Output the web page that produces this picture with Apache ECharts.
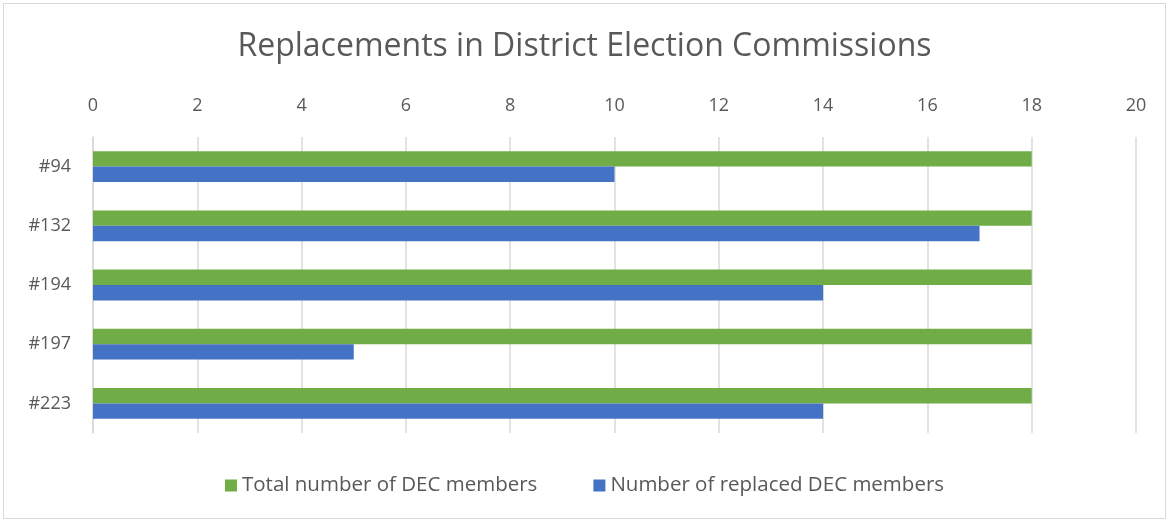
<!DOCTYPE html>
<html>
<head>
<meta charset="utf-8">
<script src="https://cdn.jsdelivr.net/npm/echarts@6/dist/echarts.min.js"></script>
<style>
html,body{margin:0;padding:0;background:#fff;}
#c{position:absolute;left:3px;top:3px;width:1163px;height:516px;border:1px solid #d9d9d9;box-sizing:border-box;}
</style>
</head>
<body>
<div id="c"></div>
<script>
const categories = ['#94', '#132', '#194', '#197', '#223'];
const totalMembers = [18, 18, 18, 18, 18];
const replacedMembers = [10, 17, 14, 5, 14];
const seriesNames = ['Total number of DEC members', 'Number of replaced DEC members'];

const FONT = 'Open Sans';
const chart = echarts.init(document.getElementById('c'), null, {renderer: 'canvas'});
chart.setOption({
  animation: false,
  textStyle: {fontFamily: FONT},
  title: {
    text: 'Replacements in District Election Commissions',
    left: 'center', top: 22,
    textStyle: {fontFamily: FONT, fontSize: 32, fontWeight: 'normal', color: '#595959'}
  },
  legend: {
    bottom: 17, left: 'center', itemGap: 56,
    itemWidth: 12, itemHeight: 12, icon: 'rect',
    textStyle: {fontFamily: FONT, fontSize: 20.5, color: '#595959'},
    data: seriesNames
  },
  grid: {left: 89, right: 29, top: 133, bottom: 85},
  xAxis: {
    type: 'value', position: 'top', min: 0, max: 20, interval: 2,
    axisLine: {show: false}, axisTick: {show: false},
    axisLabel: {fontFamily: FONT, fontSize: 18, color: '#595959', margin: 22},
    splitLine: {lineStyle: {color: '#d9d9d9', width: 1.5}}
  },
  yAxis: {
    type: 'category', data: categories, inverse: true,
    axisLine: {show: true, lineStyle: {color: '#d9d9d9', width: 1.5}},
    axisTick: {show: false},
    axisLabel: {fontFamily: FONT, fontSize: 18, color: '#595959', margin: 22}
  },
  series: [
    {name: seriesNames[0], type: 'bar', data: totalMembers, itemStyle: {color: '#70ad47'}, barGap: '0%', barCategoryGap: '48%'},
    {name: seriesNames[1], type: 'bar', data: replacedMembers, itemStyle: {color: '#4472c4'}, barGap: '0%', barCategoryGap: '48%'}
  ]
});
</script>
</body>
</html>
